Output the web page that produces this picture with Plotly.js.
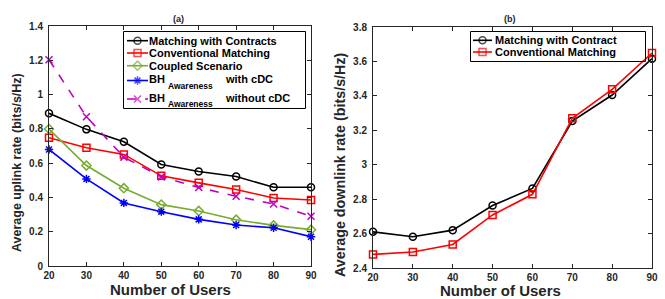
<!DOCTYPE html>
<html>
<head>
<meta charset="utf-8">
<script src="https://cdn.plot.ly/plotly-3.0.1.min.js"></script>
<style>html,body{margin:0;padding:0;background:#fff;}#chart{width:665px;height:299px;}</style>
</head>
<body>
<div id="chart"></div>
<script>
// ---- data ----
const users = [20, 30, 40, 50, 60, 70, 80, 90];

// (a) uplink
const upMatching     = [0.891, 0.797, 0.725, 0.592, 0.551, 0.522, 0.459, 0.459];
const upConventional = [0.748, 0.690, 0.651, 0.526, 0.485, 0.446, 0.397, 0.385];
const upCoupled      = [0.799, 0.586, 0.454, 0.358, 0.321, 0.270, 0.237, 0.212];
const upBHwith       = [0.680, 0.508, 0.368, 0.317, 0.272, 0.239, 0.223, 0.171];
const upBHwithout    = [1.203, 0.871, 0.635, 0.520, 0.458, 0.407, 0.362, 0.290];

// (b) downlink
const downMatching     = [2.610, 2.582, 2.620, 2.763, 2.862, 3.254, 3.405, 3.616];
const downConventional = [2.479, 2.493, 2.537, 2.708, 2.828, 3.270, 3.438, 3.649];

// tick labels
const xTicks = [20, 30, 40, 50, 60, 70, 80, 90];
const yTicksA = [0, 0.2, 0.4, 0.6, 0.8, 1, 1.2, 1.4];
const yTickTextA = ["0", "0.2", "0.4", "0.6", "0.8", "1", "1.2", "1.4"];
const yTicksB = [2.4, 2.6, 2.8, 3, 3.2, 3.4, 3.6, 3.8];
const yTickTextB = ["2.4", "2.6", "2.8", "3", "3.2", "3.4", "3.6", "3.8"];

// legend labels
const namesA = ["Matching with Contracts", "Conventional Matching", "Coupled Scenario", "BH", "BH"];
const suffixA = ["", "", "", "with cDC", "without cDC"];
const subA = "Awareness";
const namesB = ["Matching with Contract", "Conventional Matching"];

// ---- styles ----
const FONT = "Liberation Sans, Arial, sans-serif";
const AX = "#262626";
const cBlack = "#000000", cRed = "#FF0000", cGreen = "#77AC30", cBlue = "#0000FF", cMag = "#C000C0";
const stylesA = [
  {c: cBlack, s: "circle-open", d: "solid"},
  {c: cRed, s: "square-open", d: "solid"},
  {c: cGreen, s: "diamond-open", d: "solid"},
  {c: cBlue, s: "asterisk-open", d: "solid"},
  {c: cMag, s: "x-thin-open", d: "dash"}
];
const stylesB = [stylesA[0], stylesA[1]];
const seriesA = [upMatching, upConventional, upCoupled, upBHwith, upBHwithout];
const seriesB = [downMatching, downConventional];

function tr(x, y, st, xa, ya) {
  return {
    x: x, y: y, type: "scatter", mode: "lines+markers", showlegend: false,
    xaxis: xa, yaxis: ya, cliponaxis: false,
    line: {color: st.c, width: 1.6, dash: st.d},
    marker: {symbol: st.s, size: 7, color: st.c, line: {color: st.c, width: 1.5}}
  };
}

const data = [];
seriesA.forEach((s, i) => data.push(tr(users, s, stylesA[i], "x", "y")));
seriesB.forEach((s, i) => data.push(tr(users, s, stylesB[i], "x2", "y2")));

// ---- manual legends (pixel-unit overlay axes x3/y3) ----
const annotations = [];
const shapes = [];
const legFont = {family: FONT, size: 11, color: "#000", weight: "bold"};

function legendBox(x0, y0, x1, y1) {
  shapes.push({type: "rect", xref: "paper", yref: "paper",
    x0: x0 / 665, x1: x1 / 665, y0: 1 - y0 / 299, y1: 1 - y1 / 299,
    layer: "above", line: {color: "#000", width: 1}, fillcolor: "rgba(0,0,0,0)"});
}
function legendSample(st, xa, xb, yy) {
  const t = tr([xa, (xa + xb) / 2, xb], [yy, yy, yy], st, "x3", "y3");
  t.marker.size = [0, 7, 0];
  data.push(t);
}
function label(text, x, y, font) {
  annotations.push({text: text, x: x, y: y, xref: "x3", yref: "y3", xanchor: "left", yanchor: "middle",
    showarrow: false, borderpad: 0, font: font});
}

// left legend
legendBox(123.5, 31.5, 305.5, 108.5);
const rowA = [40.7, 53, 65.7, 80.5, 99];
namesA.forEach((n, i) => {
  legendSample(stylesA[i], 127, 148, rowA[i]);
  if (i < 3) {
    label(n, 148, rowA[i], legFont);
  } else {
    label(n, 148, rowA[i] - 1.5, legFont);
    label(subA, 166.5, rowA[i] + 5, {family: FONT, size: 8.5, color: "#000", weight: "bold"});
    label(suffixA[i], 223.5, rowA[i] - 1.5, legFont);
  }
});
// right legend
legendBox(470.5, 31.5, 645.5, 61.5);
const rowB = [40.3, 52];
namesB.forEach((n, i) => {
  legendSample(stylesB[i], 473, 492, rowB[i]);
  label(n, 494, rowB[i], legFont);
});

const tickfont = {family: FONT, size: 10, color: AX, weight: "bold"};
function xax(domain, anchor) {
  return {
    domain: domain, anchor: anchor, range: [20, 90], tickvals: xTicks,
    showline: true, mirror: "ticks", linecolor: AX, linewidth: 1,
    ticks: "inside", ticklen: 4, tickcolor: AX, tickwidth: 1, ticklabelstandoff: 0,
    showgrid: false, zeroline: false, tickfont: tickfont, fixedrange: true
  };
}
function yax(domain, anchor, range, vals, texts) {
  return {
    domain: domain, anchor: anchor, range: range, tickvals: vals, ticktext: texts,
    showline: true, mirror: "ticks", linecolor: AX, linewidth: 1,
    ticks: "inside", ticklen: 4, tickcolor: AX, tickwidth: 1, ticklabelstandoff: 3,
    showgrid: false, zeroline: false, tickfont: tickfont, fixedrange: true
  };
}

function note(text, px, py, size, angle) {
  annotations.push({text: text, x: px / 665, y: 1 - py / 299, xref: "paper", yref: "paper",
    xanchor: "center", yanchor: "middle", showarrow: false, textangle: angle || 0,
    font: {family: FONT, size: size, color: AX, weight: "bold"}});
}
note("(a)", 178, 19, 9);
note("(b)", 510, 19, 9);
note("Number of Users", 170, 289.5, 15);
note("Number of Users", 501, 290.5, 15);
note("Average uplink rate (bits/s/Hz)", 17, 163, 12.5, -90);
note("Average downlink rate (bits/s/Hz)", 340, 165, 14.3, -90);

const layout = {
  width: 665, height: 299,
  margin: {l: 0, r: 0, t: 0, b: 0},
  paper_bgcolor: "#fff", plot_bgcolor: "rgba(0,0,0,0)",
  showlegend: false,
  xaxis: xax([49/665, 311/665], "y"),
  yaxis: yax([1 - 266/299, 1 - 26/299], "x", [0, 1.4], yTicksA, yTickTextA),
  xaxis2: xax([373/665, 652/665], "y2"),
  yaxis2: yax([1 - 268/299, 1 - 27/299], "x2", [2.4, 3.8], yTicksB, yTickTextB),
  xaxis3: {domain: [0, 1], anchor: "y3", range: [0, 665], visible: false, fixedrange: true},
  yaxis3: {domain: [0, 1], anchor: "x3", range: [299, 0], visible: false, fixedrange: true},
  shapes: shapes,
  annotations: annotations
};

Plotly.newPlot("chart", data, layout, {staticPlot: true, displayModeBar: false});
</script>
</body>
</html>
